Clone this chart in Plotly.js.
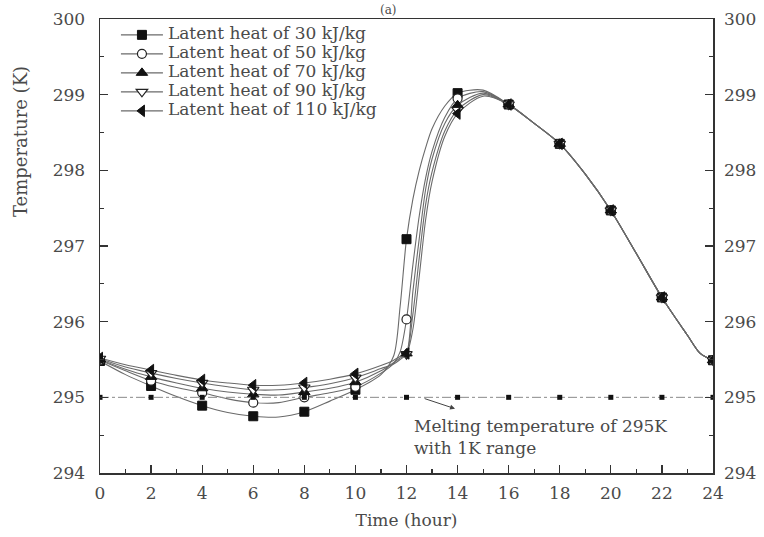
<!DOCTYPE html>
<html><head><meta charset="utf-8">
<script src="https://cdn.plot.ly/plotly-3.0.1.min.js"></script>
<style>body{margin:0;background:#fff}#chart{width:764px;height:537px}</style>
</head><body><div id="chart"></div>
<script>
// Time axis (hours)
const time = [0,1,2,3,4,5,6,7,8,9,10,11,11.5,11.75,12,12.25,12.5,12.75,13,13.5,14,15,16,17,18,19,20,21,22,23,23.5,24];
// Temperature (K) for each latent heat
const lh30  = [295.48,295.30,295.15,295.01,294.89,294.80,294.75,294.74,294.81,294.95,295.10,295.30,295.55,296.20,297.09,297.62,298.00,298.30,298.55,298.85,299.02,299.06,298.87,298.62,298.35,297.95,297.47,296.90,296.32,295.82,295.58,295.49];
const lh50  = [295.49,295.35,295.22,295.13,295.06,294.98,294.93,294.93,295.00,295.06,295.14,295.32,295.45,295.60,296.03,296.75,297.40,297.90,298.25,298.70,298.95,299.04,298.87,298.62,298.35,297.95,297.47,296.90,296.32,295.82,295.58,295.49];
const lh70  = [295.50,295.37,295.27,295.19,295.12,295.07,295.04,295.03,295.07,295.12,295.20,295.35,295.46,295.52,295.58,296.40,297.10,297.75,298.15,298.62,298.86,299.02,298.87,298.62,298.35,297.95,297.47,296.90,296.32,295.82,295.58,295.49];
const lh90  = [295.51,295.40,295.32,295.25,295.19,295.14,295.10,295.10,295.13,295.18,295.26,295.38,295.44,295.50,295.57,296.10,296.85,297.55,297.98,298.52,298.80,299.00,298.87,298.62,298.35,297.95,297.47,296.90,296.32,295.82,295.58,295.49];
const lh110 = [295.52,295.43,295.36,295.29,295.23,295.19,295.16,295.16,295.19,295.24,295.31,295.42,295.49,295.54,295.58,295.90,296.60,297.35,297.85,298.45,298.75,298.98,298.87,298.62,298.35,297.95,297.47,296.90,296.32,295.82,295.58,295.49];
const seriesNames = ['Latent heat of 30 kJ/kg','Latent heat of 50 kJ/kg','Latent heat of 70 kJ/kg','Latent heat of 90 kJ/kg','Latent heat of 110 kJ/kg'];
// Melting temperature reference line
const meltTime = [0,2,4,6,8,10,12,14,16,18,20,22,24];
const meltTemp = [295,295,295,295,295,295,295,295,295,295,295,295,295];
const meltLabel = 'Melting temperature of 295K<br>with 1K range';

const series = [lh30, lh50, lh70, lh90, lh110];
const symbols = [
  {symbol:'square', color:'#111', size:9, line:{color:'#111', width:1}},
  {symbol:'circle', color:'#fff', size:9, line:{color:'#222', width:1.2}},
  {symbol:'triangle-up', color:'#111', size:10, line:{color:'#111', width:1}},
  {symbol:'triangle-down', color:'#fff', size:10, line:{color:'#222', width:1.2}},
  {symbol:'triangle-left', color:'#111', size:10, line:{color:'#111', width:1}}
];
const lineStyle = {color:'#6a6a6a', width:1.1};
const traces = [];
// curves
series.forEach((s, k) => {
  traces.push({x: time, y: s, mode:'lines', line:Object.assign({shape:'spline', smoothing:0.8}, lineStyle), showlegend:false, hoverinfo:'skip'});
});
// markers every 2 hours
series.forEach((s, k) => {
  const mx = [], my = [];
  time.forEach((t, i) => { if (Number.isInteger(t) && t % 2 === 0) { mx.push(t); my.push(s[i]); } });
  traces.push({x: mx, y: my, mode:'markers', marker: symbols[k], showlegend:false});
});
// legend entries
series.forEach((s, k) => {
  traces.push({x:[null], y:[null], mode:'lines+markers', name:'<span style="font-size:17px">' + seriesNames[k] + '</span>', line:lineStyle, marker: symbols[k], showlegend:true});
});
// melting line
traces.push({x: meltTime, y: meltTemp, yaxis:'y2', mode:'lines+markers', line:{color:'#8a8a8a', width:1, dash:'dashdot'}, marker:{symbol:'square', size:5, color:'#111'}, showlegend:false});

const axisCommon = {showgrid:false, zeroline:false, showline:true, linecolor:'#333', linewidth:1.5, ticks:'inside', ticklen:8, tickwidth:1.2, tickcolor:'#333', tickfont:{family:'DejaVu Serif', size:17, color:'#4a4a4a'}};
const layout = {
  width:764, height:537,
  margin:{l:100, r:51, t:19, b:64},
  paper_bgcolor:'#fff', plot_bgcolor:'#fff',
  font:{family:'DejaVu Serif', size:17, color:'#4a4a4a'},
  xaxis: Object.assign({}, axisCommon, {range:[0,24], tick0:0, dtick:2, mirror:true, ticklabelstandoff:4,
    minor:{dtick:1, ticks:'inside', ticklen:4, tickcolor:'#333', showgrid:false},
    title:{text:'Time (hour)', font:{family:'DejaVu Serif', size:17, color:'#4a4a4a'}, standoff:12}}),
  yaxis: Object.assign({}, axisCommon, {range:[294,300], dtick:1, ticklabelstandoff:10,
    minor:{dtick:0.5, ticks:'inside', ticklen:4, tickcolor:'#333', showgrid:false}}),
  yaxis2: Object.assign({}, axisCommon, {range:[294,300], dtick:1, overlaying:'y', side:'right', ticklabelstandoff:6,
    minor:{dtick:0.5, ticks:'inside', ticklen:4, tickcolor:'#333', showgrid:false}}),
  legend:{x:0.026, y:0.997, xanchor:'left', yanchor:'top', bgcolor:'rgba(0,0,0,0)', borderwidth:0, font:{family:'DejaVu Serif', size:11, color:'#4a4a4a'}, itemwidth:42, traceorder:'normal'},
  annotations:[
    {x:13.9, y:294.85, ax:12.65, ay:294.99, axref:'x', ayref:'y', xref:'x', yref:'y', text:'', showarrow:true, arrowhead:2, arrowsize:1, arrowwidth:1, arrowcolor:'#444'},
    {x:12.2, y:294.48, xref:'x', yref:'y', xanchor:'left', yanchor:'middle', align:'left', text:meltLabel, showarrow:false, font:{family:'DejaVu Serif', size:17, color:'#4a4a4a'}},
    {x:-0.1305, y:0.729, xref:'paper', yref:'paper', xanchor:'center', yanchor:'middle', text:'Temperature (K)', textangle:-90, showarrow:false, font:{family:'DejaVu Serif', size:18, color:'#4a4a4a'}},
    {x:0.47, y:1, xref:'paper', yref:'paper', yanchor:'bottom', yshift:0, text:'(a)', showarrow:false, font:{family:'DejaVu Serif', size:12, color:'#4a4a4a'}}
  ]
};
Plotly.newPlot('chart', traces, layout, {displayModeBar:false, staticPlot:true});
</script>
</body></html>
